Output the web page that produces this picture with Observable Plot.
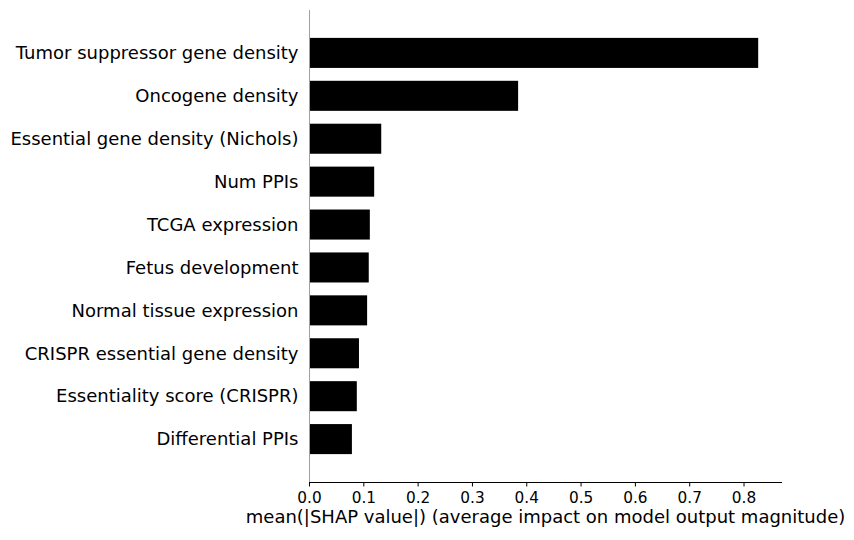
<!DOCTYPE html>
<html>
<head>
<meta charset="utf-8">
<script src="https://cdn.jsdelivr.net/npm/d3@7"></script>
<script src="https://cdn.jsdelivr.net/npm/@observablehq/plot@0.6"></script>
<style>
  body { margin: 0; background: #fff; }
</style>
</head>
<body>
<div id="chart_1"></div>
<script>
const features = [
  'Tumor suppressor gene density',
  'Oncogene density',
  'Essential gene density (Nichols)',
  'Num PPIs',
  'TCGA expression',
  'Fetus development',
  'Normal tissue expression',
  'CRISPR essential gene density',
  'Essentiality score (CRISPR)',
  'Differential PPIs'
]
const meanShap = [0.827, 0.385, 0.133, 0.120, 0.112, 0.110, 0.107, 0.092, 0.088, 0.079]
const xTicks = [0, 0.1, 0.2, 0.3, 0.4, 0.5, 0.6, 0.7, 0.8]
const xLabel = 'mean(|SHAP value|) (average impact on model output magnitude)'

const data = features.map((f, i) => ({feature: f, value: meanShap[i]}))

let chart = Plot.plot({
  marks: [
    Plot.barX(data, {
      x: 'value',
      y: 'feature',
      fill: 'black',
    }),
    Plot.ruleX([0], {stroke: '#a0a0a0', strokeWidth: 1}),
    Plot.frame({anchor: 'bottom', stroke: 'black', strokeWidth: 1}),
    Plot.axisX({
      ticks: xTicks,
      tickFormat: d3.format('.1f'),
      tickSize: 4.5,
      tickPadding: 5,
      fontSize: 15.3,
      label: null,
    }),
    Plot.axisY({
      tickSize: 0,
      tickPadding: 11,
      fontSize: 18,
      label: null,
    }),
    Plot.text([xLabel], {
      frameAnchor: 'bottom',
      dy: 40,
      fontSize: 18,
      fill: 'black',
    }),
  ],
  x: {
    domain: [0, 0.869],
  },
  y: {
    domain: features,
    paddingInner: 0.3,
    paddingOuter: 0.65,
    round: false,
  },
  style: {color: 'black', background: 'white', fontFamily: 'DejaVu Sans'},
  width: 854,
  height: 540,
  marginLeft: 309,
  marginRight: 73,
  marginTop: 10,
  marginBottom: 58,
})
d3.select('#chart_1').append(() => chart)
</script>
</body>
</html>
